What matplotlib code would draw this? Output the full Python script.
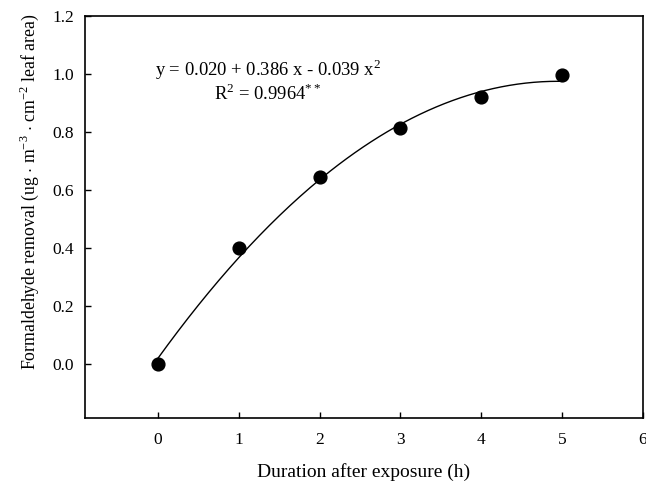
import numpy as np
import matplotlib
matplotlib.use("Agg")
import matplotlib.pyplot as plt

plt.rcParams['font.family'] = ['Liberation Serif', 'DejaVu Serif']
plt.rcParams['mathtext.fontset'] = 'custom'
plt.rcParams['mathtext.rm'] = 'Liberation Serif'

# data
hours = [0, 1, 2, 3, 4, 5]
removal = [0.0, 0.40, 0.647, 0.815, 0.921, 0.998]
coef = [0.020, 0.386, -0.039]  # a + b x + c x^2
x_ticks = [0, 1, 2, 3, 4, 5, 6]
y_ticks = [0.0, 0.2, 0.4, 0.6, 0.8, 1.0, 1.2]

fig = plt.figure(figsize=(6.46, 4.87), dpi=100)
ax = fig.add_axes([0.1316, 0.1417, 0.8638, 0.8254])

xf = np.linspace(hours[0], hours[-1], 200)
yf = coef[0] + coef[1]*xf + coef[2]*xf**2
ax.plot(xf, yf, c='k', lw=1.0)
ax.plot(hours, removal, 'o', c='k', ms=9.2, zorder=3)

ax.set_xlim(-0.9, 6)
ax.set_ylim(-0.185, 1.2)
ax.set_xticks(x_ticks)
ax.set_yticks(y_ticks)
ax.set_yticklabels(['%.1f' % v for v in y_ticks])
ax.tick_params(direction='in', length=4, width=1, labelsize=12.5)
ax.tick_params(axis='x', pad=10)
ax.tick_params(axis='y', pad=8)
for s in ax.spines.values():
    s.set_linewidth(1.2)

ax.set_xlabel('Duration after exposure (h)', fontsize=14, labelpad=11)
ax.set_ylabel(r'Formaldehyde removal (ug $\cdot$ m$^{-3}$ $\cdot$ cm$^{-2}$ leaf area)', fontsize=12.8)
ax.yaxis.set_label_coords(-0.079, 0.562)

ax.text(1.36, 1.014, r'y = 0.020 + 0.386 x - 0.039 x$^{2}$', fontsize=13.4, ha='center', va='center')
ax.text(1.36, 0.931, r'R$^{2}$ = 0.9964$^{**}$', fontsize=13.4, ha='center', va='center')

fig.savefig('out.png', dpi=100)
